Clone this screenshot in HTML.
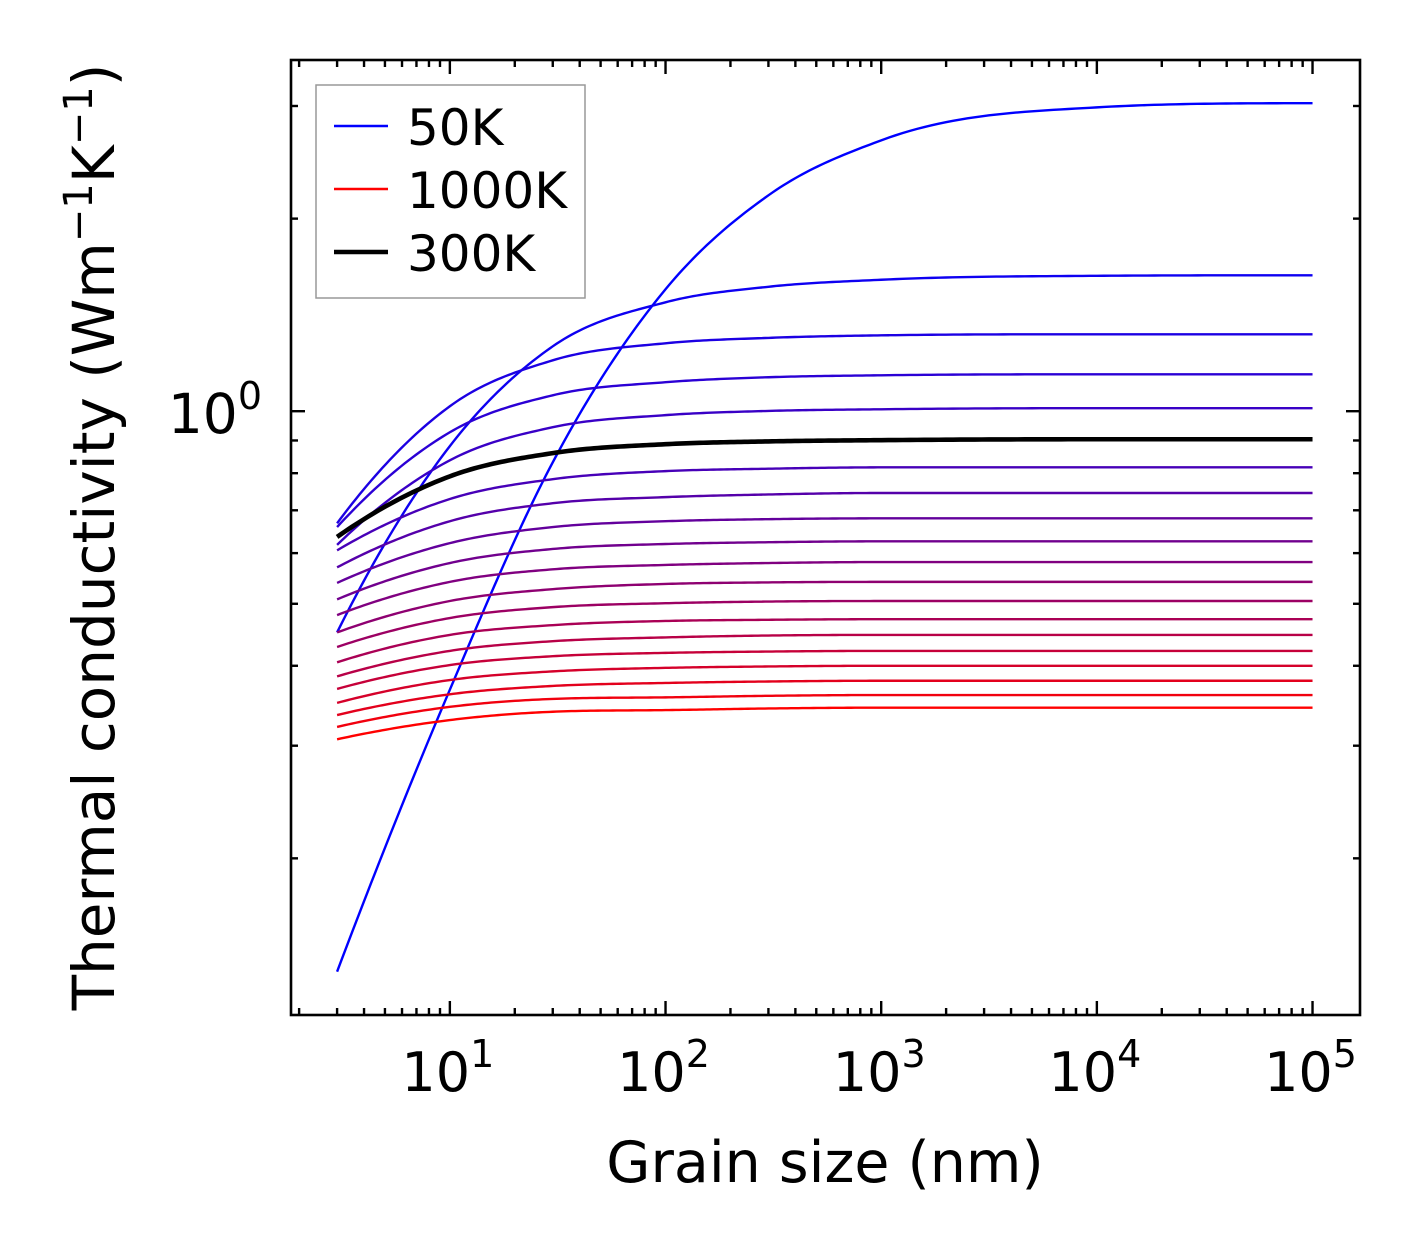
<!DOCTYPE html>
<html><head><meta charset="utf-8">
<style>
html,body{margin:0;padding:0;background:#fff;}
svg{display:block;}
text{font-family:"DejaVu Sans","Liberation Sans",sans-serif;fill:#000;}
</style></head>
<body>
<svg id="chart" width="1421" height="1254" viewBox="0 0 1421 1254" xmlns="http://www.w3.org/2000/svg">
  <rect x="0" y="0" width="1421" height="1254" fill="#fff"/>
  <g id="curves"></g>
  <g id="ticks"></g>
  <rect x="291" y="60" width="1069" height="955" fill="none" stroke="#000" stroke-width="2.6"/>
  <g id="xlabels"></g>
  <g id="ylabels"></g>
  <text x="825" y="1182" font-size="57" text-anchor="middle">Grain size (nm)</text>
  <text transform="translate(114,537) rotate(-90)" font-size="58" text-anchor="middle">Thermal conductivity (Wm<tspan font-size="40" dy="-22">−1</tspan><tspan dy="22">K</tspan><tspan font-size="40" dy="-22">−1</tspan><tspan dy="22">)</tspan></text>
  <g>
    <rect x="316" y="85" width="269" height="213" fill="#fff" stroke="#999" stroke-width="1.5"/>
    <line x1="334" y1="126" x2="388" y2="126" stroke="#0000ff" stroke-width="2.4"/>
    <text x="407" y="145" font-size="50">50K</text>
    <line x1="334" y1="189" x2="388" y2="189" stroke="#ff0000" stroke-width="2.4"/>
    <text x="407" y="208" font-size="50">1000K</text>
    <line x1="334" y1="252" x2="388" y2="252" stroke="#000" stroke-width="4.6"/>
    <text x="407" y="271" font-size="50">300K</text>
  </g>
</svg>
<script>
const grainSizes = [3,10,30,100,300,1000,10000,100000];
const k50 = [0.133,0.367,0.832,1.551,2.175,2.651,2.985,3.03];
const kC2 = [0.451,0.882,1.263,1.480,1.565,1.605,1.628,1.631];
const kC3 = [0.668,1.018,1.201,1.277,1.302,1.314,1.319,1.319];
const kC4 = [0.659,0.927,1.059,1.110,1.130,1.138,1.142,1.142];
const kC5 = [0.618,0.838,0.944,0.986,1.001,1.007,1.011,1.011];
const kC6 = [0.606,0.729,0.783,0.806,0.813,0.817,0.817,0.817];
const kC7 = [0.570,0.673,0.718,0.734,0.741,0.745,0.745,0.745];
const kC8 = [0.539,0.622,0.659,0.673,0.678,0.680,0.680,0.680];
const kC9 = [0.508,0.579,0.609,0.620,0.624,0.626,0.626,0.626];
const kC10 = [0.480,0.541,0.566,0.575,0.579,0.581,0.581,0.581];
const kC11 = [0.451,0.505,0.527,0.537,0.540,0.541,0.541,0.541];
const kC12 = [0.428,0.475,0.494,0.501,0.504,0.505,0.505,0.505];
const kC13 = [0.405,0.447,0.463,0.470,0.472,0.473,0.473,0.473];
const kC14 = [0.385,0.422,0.437,0.443,0.446,0.447,0.447,0.447];
const kC15 = [0.368,0.401,0.414,0.419,0.421,0.422,0.422,0.422];
const kC16 = [0.350,0.380,0.392,0.397,0.399,0.400,0.400,0.400];
const kC17 = [0.335,0.361,0.372,0.376,0.378,0.379,0.379,0.379];
const kC18 = [0.321,0.345,0.355,0.357,0.359,0.360,0.360,0.360];
const kC1000 = [0.307,0.329,0.339,0.341,0.343,0.344,0.344,0.344];
const k300 = [0.636,0.791,0.860,0.888,0.897,0.901,0.904,0.904];
const xTickExps = ["1","2","3","4","5"];
const yTickExps = ["0"];

const NS = "http://www.w3.org/2000/svg";
const X0 = 291, X1 = 1360, Y0 = 60, Y1 = 1015;
const xLogMin = Math.log10(1.834), xLogMax = Math.log10(166000);
const yLogMin = Math.log10(0.1138), yLogMax = Math.log10(3.54);
function xs(v){ return X0 + (Math.log10(v) - xLogMin) / (xLogMax - xLogMin) * (X1 - X0); }
function ys(v){ return Y1 - (Math.log10(v) - yLogMin) / (yLogMax - yLogMin) * (Y1 - Y0); }

function smoothPath(xv, yv){
  const n = xv.length, X = xv.map(Math.log10), Y = yv.map(Math.log10);
  const d = [], h = [], m = new Array(n);
  for (let i=0;i<n-1;i++){ h.push(X[i+1]-X[i]); d.push((Y[i+1]-Y[i])/h[i]); }
  for (let i=1;i<n-1;i++){
    m[i] = (h[i]*d[i-1] + h[i-1]*d[i])/(h[i-1]+h[i]);
  }
  let m0 = ((2*h[0]+h[1])*d[0] - h[0]*d[1])/(h[0]+h[1]);
  if (Math.sign(m0)!==Math.sign(d[0])) m0=0; else if (Math.abs(m0)>3*Math.abs(d[0])) m0=3*d[0];
  m[0]=m0;
  m[n-1]=0;
  for (let i=0;i<n-1;i++){
    if (d[i]===0){ m[i]=0; m[i+1]=0; continue; }
    const a=m[i]/d[i], b=m[i+1]/d[i], s=a*a+b*b;
    if (s>9){ const t=3/Math.sqrt(s); m[i]=t*a*d[i]; m[i+1]=t*b*d[i]; }
  }
  let p = "";
  for (let i=0;i<n-1;i++){
    const hh = h[i];
    for (let j=0;j<=30;j++){
      if (i>0 && j===0) continue;
      const t=j/30, t2=t*t, t3=t2*t;
      const yy = (2*t3-3*t2+1)*Y[i] + (t3-2*t2+t)*hh*m[i] + (-2*t3+3*t2)*Y[i+1] + (t3-t2)*hh*m[i+1];
      const px = xs(Math.pow(10, X[i]+t*hh)), py = ys(Math.pow(10, yy));
      p += (p ? "L" : "M") + px.toFixed(2) + "," + py.toFixed(2);
    }
  }
  return p;
}

const colored = [k50,kC2,kC3,kC4,kC5,kC6,kC7,kC8,kC9,kC10,kC11,kC12,kC13,kC14,kC15,kC16,kC17,kC18,kC1000];
const curves = document.getElementById("curves");
colored.forEach((series, i) => {
  const f = i/(colored.length-1);
  const path = document.createElementNS(NS, "path");
  path.setAttribute("d", smoothPath(grainSizes, series));
  path.setAttribute("fill", "none");
  path.setAttribute("stroke", "rgb(" + Math.round(255*f) + ",0," + Math.round(255*(1-f)) + ")");
  path.setAttribute("stroke-width", "2.4");
  
  
  curves.appendChild(path);
});
const bp = document.createElementNS(NS, "path");
bp.setAttribute("d", smoothPath(grainSizes, k300));
bp.setAttribute("fill", "none");
bp.setAttribute("stroke", "#000");
bp.setAttribute("stroke-width", "4.6");


curves.appendChild(bp);

const ticks = document.getElementById("ticks");
function tick(x1,y1,x2,y2,name){
  const l = document.createElementNS(NS, "line");
  l.setAttribute("x1",x1); l.setAttribute("y1",y1); l.setAttribute("x2",x2); l.setAttribute("y2",y2);
  l.setAttribute("stroke","#000"); l.setAttribute("stroke-width","2.4");
  
  
  ticks.appendChild(l);
}
for (let e=0;e<=5;e++){
  for (let k=1;k<=9;k++){
    const v = k*Math.pow(10,e);
    const x = xs(v);
    if (x < X0+1 || x > X1-1) continue;
    const len = k===1 ? 14 : 7;
    tick(x, Y1, x, Y1-len, 'x-tick');
    tick(x, Y0, x, Y0+len, 'x-tick-top');
  }
}
for (let e=-1;e<=0;e++){
  for (let k=1;k<=9;k++){
    const v = k*Math.pow(10,e);
    const y = ys(v);
    if (y < Y0+1 || y > Y1-1) continue;
    const len = k===1 ? 14 : 7;
    tick(X0, y, X0+len, y, 'y-tick');
    tick(X1, y, X1-len, y, 'y-tick-right');
  }
}
const xl = document.getElementById("xlabels");
xTickExps.forEach(ex => {
  const t = document.createElementNS(NS, "text");
  t.setAttribute("x", xs(Math.pow(10, +ex)) - 2);
  t.setAttribute("y", 1091);
  t.setAttribute("font-size", "54");
  t.setAttribute("text-anchor", "middle");
  t.innerHTML = '10<tspan font-size="38" dy="-24">' + ex + '</tspan>';
  
  
  xl.appendChild(t);
});
const yl = document.getElementById("ylabels");
yTickExps.forEach(ex => {
  const t = document.createElementNS(NS, "text");
  t.setAttribute("x", 262);
  t.setAttribute("y", ys(Math.pow(10, +ex)) + 22);
  t.setAttribute("font-size", "55");
  t.setAttribute("text-anchor", "end");
  t.innerHTML = '10<tspan font-size="38" dy="-24">' + ex + '</tspan>';
  
  
  yl.appendChild(t);
});
</script>
</body></html>
